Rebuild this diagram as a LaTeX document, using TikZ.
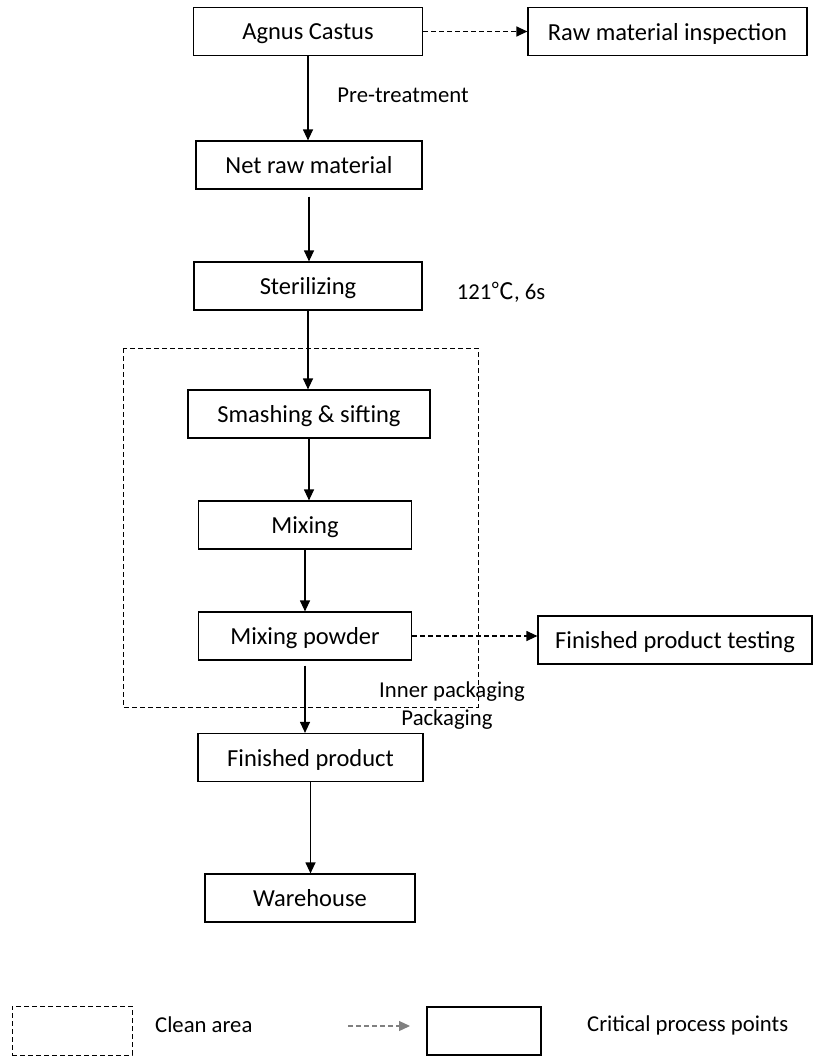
\documentclass[tikz,border=0pt]{standalone}
\usepackage{fontspec}
\setmainfont{Carlito}
\newfontfamily\cjk{Noto Sans CJK SC}
\usetikzlibrary{arrows.meta}
\tikzset{
    stepbox/.style={
        draw,
        rectangle,
        minimum height=48pt,
        inner sep=0pt,
        text depth=0pt,
        line width=1.2pt,
        font=\fontsize{24.5}{28}\selectfont
    },
    flow/.style={
        -{Triangle[length=11pt, width=10pt]},
        line width=1.2pt
    },
    check/.style={
        flow,
        dash pattern=on 5pt off 3pt
    },
    note/.style={
        inner sep=0pt,
        font=\fontsize{22.7}{26}\selectfont
    }
}

\begin{document}
\begin{tikzpicture}[x=1pt, y=-1pt]
  \useasboundingbox (0,0) rectangle (813,1057);

  % Process steps
  \node[stepbox, minimum width=229pt] (agnus) at (308,31.5) {Agnus Castus};
  \node[stepbox, minimum width=279pt] (inspect) at (667.5,31.5) {Raw material inspection};
  \node[stepbox, minimum width=226pt] (net) at (309,165) {Net raw material};
  \node[stepbox, minimum width=228pt] (steril) at (308,286) {Sterilizing};
  \node[stepbox, minimum width=242pt] (smash) at (309,414) {Smashing \& sifting};
  \node[stepbox, minimum width=213pt] (mixing) at (305,525) {Mixing};
  \node[stepbox, minimum width=213pt] (powder) at (305,636) {Mixing powder};
  \node[stepbox, minimum width=274pt] (testing) at (675,640) {Finished product testing};
  \node[stepbox, minimum width=225pt] (finished) at (310.5,757.5) {Finished product};
  \node[stepbox, minimum width=210pt] (warehouse) at (310,898) {Warehouse};

  % Clean area
  \draw[line width=1pt, dash pattern=on 5pt off 3pt] (123,348) rectangle (478,707);

  % Main flow
  \draw[flow] (agnus.south) -- (agnus.south |- net.north);
  \draw[flow, shorten <=7pt] (net.south) -- (net.south |- steril.north);
  \draw[flow] (steril.south) -- (steril.south |- smash.north);
  \draw[flow] (smash.south) -- (smash.south |- mixing.north);
  \draw[flow] (mixing.south) -- (mixing.south |- powder.north);
  \draw[flow, shorten <=5pt] (powder.south) -- (powder.south |- finished.north);
  \draw[flow] (finished.south) -- (finished.south |- warehouse.north);

  % Inspection points
  \draw[check] (agnus.east) -- (inspect.west);
  \draw[check] (powder.east) -- (powder.east -| testing.west);

  % Step notes
  \node[note] (pretreat) at (403,95) {Pre-treatment};
  \node[note] (temp) at (501,292) {121{\cjk ℃}, 6s};
  \node[note] (inner) at (452,692) {Inner packaging};
  \node[note] (pack) at (447,720) {Packaging};

  % Legend
  \node[draw, line width=1pt, dash pattern=on 5pt off 3pt, minimum width=120pt, minimum height=49pt] (cleankey) at (72,1030.5) {};
  \node[note, anchor=west] (cleantext) at (155,1025) {Clean area};
  \coordinate (keystart) at (348,1026);
  \coordinate (keyend) at (410,1026);
  \draw[check, gray] (keystart) -- (keyend);
  \node[draw, line width=1.2pt, minimum width=114pt, minimum height=48pt] (critkey) at (484,1031) {};
  \node[note, anchor=west] (crittext) at (587,1025) {Critical process points};
\end{tikzpicture}
\end{document}
